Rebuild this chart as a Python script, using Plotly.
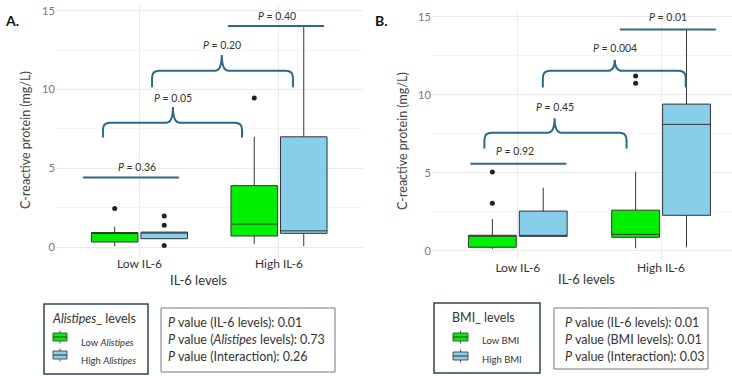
import plotly.graph_objects as go

# ---------------- data ----------------
categories = ["Low IL-6", "High IL-6"]
cat_pos = [0, 1]

# Panel A: Alistipes levels
A_low_q1 = [0.32, 0.70]
A_low_med = [0.90, 1.46]
A_low_q3 = [0.92, 3.90]
A_low_lo = [0.05, 0.20]
A_low_hi = [1.30, 7.00]
A_low_out_x = [0, 1]
A_low_out_y = [2.45, 9.46]

A_high_q1 = [0.53, 0.87]
A_high_med = [0.93, 1.03]
A_high_q3 = [0.95, 7.00]
A_high_lo = [0.53, 0.05]
A_high_hi = [0.95, 14.00]
A_high_out_x = [0, 0, 0]
A_high_out_y = [1.97, 1.38, 0.10]

# Panel B: BMI levels
B_low_q1 = [0.22, 0.86]
B_low_med = [0.95, 1.05]
B_low_q3 = [0.99, 2.60]
B_low_lo = [0.10, 0.15]
B_low_hi = [2.03, 5.06]
B_low_out_x = [0, 0, 1, 1]
B_low_out_y = [3.04, 5.04, 10.73, 11.20]

B_high_q1 = [0.92, 2.27]
B_high_med = [0.92, 8.10]
B_high_q3 = [2.54, 9.40]
B_high_lo = [0.92, 0.22]
B_high_hi = [4.04, 14.15]

# comparison labels
A_pvals = ["0.36", "0.05", "0.20", "0.40"]
B_pvals = ["0.92", "0.45", "0.004", "0.01"]
A_table = ["<i>P</i> value (IL-6 levels): 0.01",
           "<i>P</i> value (<i>Alistipes</i> levels): 0.73",
           "<i>P</i> value (Interaction): 0.26"]
B_table = ["<i>P</i> value (IL-6 levels): 0.01",
           "<i>P</i> value (BMI levels): 0.01",
           "<i>P</i> value (Interaction): 0.03"]

# ---------------- style ----------------
W, H = 732, 376
GREEN = "#00f000"
BLUE = "#87ceeb"
EDGE = "#333333"
BRK = "#2b6a89"
FONT = "Lato"
GRID = "#ebebeb"
MINOR = "#f4f4f4"


def px(x):
    return x / W


def py(y):
    return 1 - y / H


fig = go.Figure()


def add_box(xa, ya, q1, med, q3, lo, hi, color, grp):
    fig.add_trace(go.Box(x=cat_pos, q1=q1, median=med, q3=q3, lowerfence=lo,
                         upperfence=hi, fillcolor=color,
                         line=dict(color=EDGE, width=1), whiskerwidth=0,
                         offsetgroup=grp, xaxis=xa, yaxis=ya, showlegend=False,
                         boxpoints=False, hoverinfo="skip"))


def add_out(xa, ya, xs, ys, grp):
    fig.add_trace(go.Scatter(x=xs, y=ys, mode="markers",
                             marker=dict(color="#222222", size=5),
                             offsetgroup=grp, xaxis=xa, yaxis=ya,
                             showlegend=False, hoverinfo="skip"))


add_box("x", "y", A_low_q1, A_low_med, A_low_q3, A_low_lo, A_low_hi, GREEN, "low")
add_box("x", "y", A_high_q1, A_high_med, A_high_q3, A_high_lo, A_high_hi, BLUE, "high")
add_out("x", "y", A_low_out_x, A_low_out_y, "low")
add_out("x", "y", A_high_out_x, A_high_out_y, "high")

add_box("x2", "y2", B_low_q1, B_low_med, B_low_q3, B_low_lo, B_low_hi, GREEN, "low")
add_box("x2", "y2", B_high_q1, B_high_med, B_high_q3, B_high_lo, B_high_hi, BLUE, "high")
add_out("x2", "y2", B_low_out_x, B_low_out_y, "low")
add_out("x2", "y2", [0], [None], "high")

shapes = []
annotations = []


def bracket(xr, yr, x0, x1, xc, yb, ye, yp):
    dx = 0.05
    r = 0.45
    path = (f"M {x0},{ye} L {x0},{yb - r} Q {x0},{yb} {x0 + dx},{yb} "
            f"L {xc - dx},{yb} Q {xc},{yb} {xc},{yp} "
            f"Q {xc},{yb} {xc + dx},{yb} L {x1 - dx},{yb} "
            f"Q {x1},{yb} {x1},{yb - r} L {x1},{ye}")
    shapes.append(dict(type="path", path=path, xref=xr, yref=yr,
                       line=dict(color=BRK, width=2)))


def hline(xr, yr, x0, x1, y):
    shapes.append(dict(type="line", x0=x0, x1=x1, y0=y, y1=y, xref=xr, yref=yr,
                       line=dict(color=BRK, width=2)))


def ptext(xr, yr, x, y, val):
    annotations.append(dict(x=x, y=y, xref=xr, yref=yr, showarrow=False,
                            text=f"<i>P</i> = {val}",
                            font=dict(family=FONT, size=10.5, color="#333333")))


# Panel A annotations
hline("x", "y", -0.405, 0.283, 4.42)
ptext("x", "y", -0.02, 5.1, A_pvals[0])
bracket("x", "y", -0.262, 0.735, 0.24, 7.9, 6.95, 8.9)
ptext("x", "y", 0.24, 9.45, A_pvals[1])
bracket("x", "y", 0.09, 1.10, 0.59, 11.2, 10.15, 12.2)
ptext("x", "y", 0.59, 12.8, A_pvals[2])
hline("x", "y", 0.634, 1.323, 14.03)
ptext("x", "y", 0.986, 14.7, A_pvals[3])

# Panel B annotations
hline("x2", "y2", -0.331, 0.339, 5.58)
ptext("x2", "y2", -0.02, 6.4, B_pvals[0])
bracket("x2", "y2", -0.233, 0.759, 0.257, 7.56, 6.56, 8.49)
ptext("x2", "y2", 0.257, 9.2, B_pvals[1])
bracket("x2", "y2", 0.175, 1.172, 0.677, 11.54, 10.47, 12.25)
ptext("x2", "y2", 0.677, 12.97, B_pvals[2])
hline("x2", "y2", 0.712, 1.382, 14.19)
ptext("x2", "y2", 1.046, 15.0, B_pvals[3])


def ann_px(x, y, text, size, color="#333333", bold=False, anchor="center", angle=0):
    annotations.append(dict(x=px(x), y=py(y), xref="paper", yref="paper",
                            showarrow=False, text=f"<b>{text}</b>" if bold else text,
                            xanchor=anchor, yanchor="middle", textangle=angle,
                            font=dict(family=FONT, size=size, color=color)))


def rect_px(x0, y0, x1, y1, color, width, fill="rgba(0,0,0,0)"):
    shapes.append(dict(type="rect", xref="paper", yref="paper",
                       x0=px(x0), x1=px(x1), y0=py(y0), y1=py(y1),
                       line=dict(color=color, width=width), fillcolor=fill))


def line_px(x0, y0, x1, y1, color, width):
    shapes.append(dict(type="line", xref="paper", yref="paper",
                       x0=px(x0), x1=px(x1), y0=py(y0), y1=py(y1),
                       line=dict(color=color, width=width)))


def legend_icon(x0, x1, yc, fill):
    xm = (x0 + x1) / 2
    line_px(xm, yc - 6.5, xm, yc + 6.5, "#555555", 1)
    rect_px(x0, yc - 4, x1, yc + 4, "#555555", 1, fill)
    line_px(x0, yc, x1, yc, "#333333", 1)


# panel letters
ann_px(12, 20, "A.", 14, "#111111", bold=True, anchor="center")
ann_px(381, 20, "B.", 14, "#111111", bold=True, anchor="center")

# axis titles
ann_px(25, 140, "C-reactive protein (mg/L)", 12.5, "#444444", angle=-90)
ann_px(402, 141, "C-reactive protein (mg/L)", 12.5, "#444444", angle=-90)
ann_px(198, 280, "IL-6 levels", 13, "#333333")
ann_px(586, 279, "IL-6 levels", 13, "#333333")

# Legend A
rect_px(44, 304, 148, 374, "#2f4650", 1.5)
ann_px(94, 318, "<i>Alistipes</i>_ levels", 12.5, "#333333")
legend_icon(53, 67, 337, GREEN)
legend_icon(53, 67, 355, BLUE)
ann_px(79, 342, "Low <i>Alistipes</i>", 9.5, "#333333", anchor="left")
ann_px(79, 360, "High <i>Alistipes</i>", 9.5, "#333333", anchor="left")

# P table A
rect_px(161, 308, 335, 372, "#777777", 1)
for i, t in enumerate(A_table):
    ann_px(166, 322 + i * 17, t, 12.5, "#333333", anchor="left")

# Legend B
rect_px(434, 303, 540, 373, "#2f4650", 1.5)
ann_px(484, 317, "BMI_ levels", 12.5, "#333333")
legend_icon(453, 468, 337, GREEN)
legend_icon(453, 468, 356, BLUE)
ann_px(480, 340, "Low BMI", 9.5, "#333333", anchor="left")
ann_px(480, 359, "High BMI", 9.5, "#333333", anchor="left")

# P table B
rect_px(554, 308, 708, 369, "#777777", 1)
for i, t in enumerate(B_table):
    ann_px(563, 322 + i * 17, t, 12.5, "#333333", anchor="left")

xcommon = dict(tickvals=cat_pos, ticktext=categories, showgrid=True, gridcolor=GRID,
               zeroline=False, showline=False, ticks="",
               tickfont=dict(family=FONT, size=12, color="#333333"))
ycommon = dict(range=[-0.5, 15.4], tickvals=[0, 5, 10, 15], showgrid=True,
               gridcolor=GRID, zeroline=False, showline=False, ticks="",
               minor=dict(tickvals=[2.5, 7.5, 12.5], showgrid=True, gridcolor=MINOR),
               tickfont=dict(family=FONT, size=11, color="#777777"))

fig.update_layout(
    width=W, height=H, margin=dict(l=0, r=0, t=0, b=0),
    paper_bgcolor="white", plot_bgcolor="white",
    boxmode="group", boxgap=0.29, boxgroupgap=0.06,
    scattermode="group", scattergap=0.29,
    showlegend=False,
    xaxis=dict(domain=[0.0762, 0.4955], range=[-0.6, 1.6], anchor="y", **xcommon),
    yaxis=dict(domain=[0.322, 0.988], anchor="x", **ycommon),
    xaxis2=dict(domain=[0.5899, 1.0], range=[-0.6, 1.495], anchor="y2", **xcommon),
    yaxis2=dict(domain=[0.3125, 0.972], anchor="x2", **ycommon),
    shapes=shapes, annotations=annotations,
)

fig.write_html("out.html")
